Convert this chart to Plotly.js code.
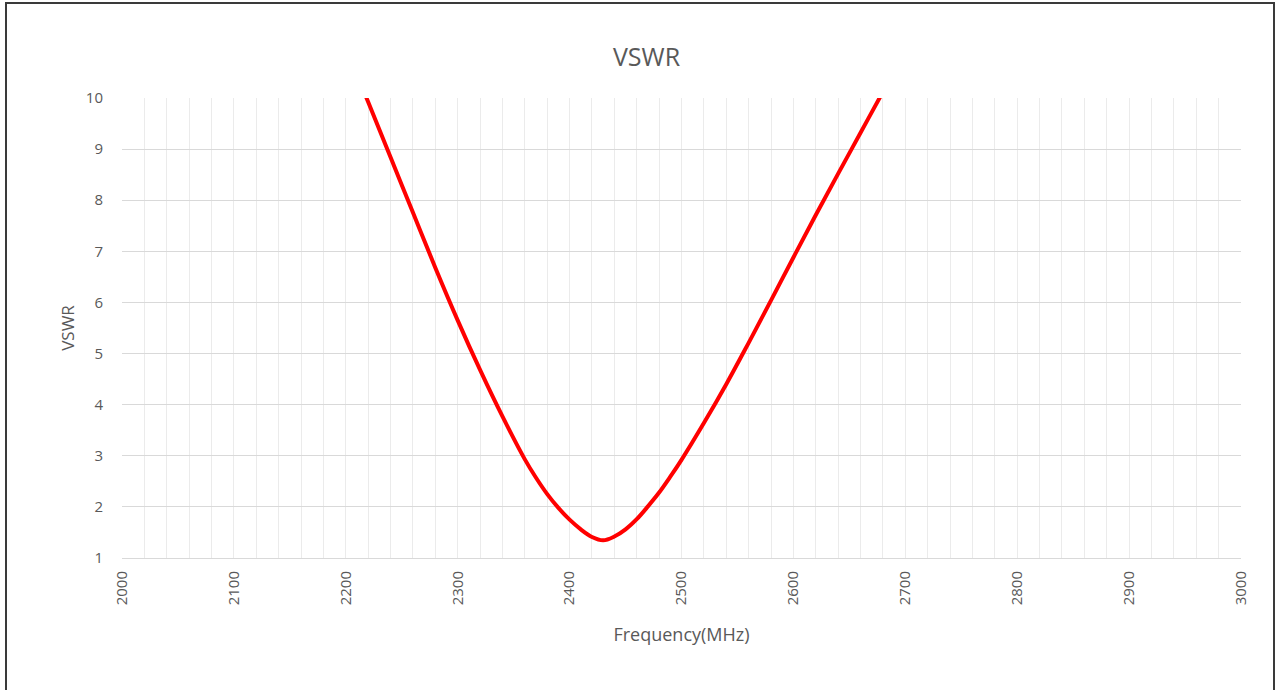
<!DOCTYPE html>
<html>
<head>
<meta charset="utf-8">
<script src="https://cdn.plot.ly/plotly-3.0.1.min.js"></script>
<style>
html,body{margin:0;padding:0;background:#fff;overflow:hidden;}
#frame{position:absolute;left:5px;top:2px;width:1270px;height:700px;border:2px solid #3a3a3a;box-sizing:border-box;pointer-events:none;}
#chart{position:absolute;left:0;top:0;width:1279px;height:690px;}
</style>
</head>
<body>
<div id="chart"></div>
<div id="frame"></div>
<script>
// Frequency (MHz) and VSWR
var freq = [2200, 2220, 2240, 2260, 2280, 2300, 2320, 2340, 2360, 2370, 2380, 2390, 2400, 2410, 2420, 2430, 2440, 2450, 2460, 2470, 2480, 2490, 2500, 2520, 2540, 2560, 2580, 2600, 2620, 2640, 2660, 2680, 2700];
var vswr = [11.0, 9.92, 8.84, 7.76, 6.68, 5.65, 4.68, 3.77, 2.93, 2.57, 2.25, 1.98, 1.75, 1.56, 1.41, 1.345, 1.42, 1.56, 1.76, 2.01, 2.28, 2.59, 2.92, 3.64, 4.40, 5.21, 6.04, 6.88, 7.71, 8.52, 9.32, 10.12, 10.9];
var xTickVals = [2000, 2100, 2200, 2300, 2400, 2500, 2600, 2700, 2800, 2900, 3000];
var xTickText = ["2000", "2100", "2200", "2300", "2400", "2500", "2600", "2700", "2800", "2900", "3000"];
var yTickVals = [1, 2, 3, 4, 5, 6, 7, 8, 9, 10];

var trace = {
  x: freq, y: vswr, type: 'scatter', mode: 'lines',
  line: {color: '#ff0000', width: 4, shape: 'spline', smoothing: 1.0},
  hoverinfo: 'x+y'
};

var fam = '"Open Sans", "Noto Sans", sans-serif';

var layout = {
  width: 1279, height: 690,
  margin: {l: 122, r: 38, t: 98, b: 132, pad: 0},
  paper_bgcolor: 'rgba(0,0,0,0)', plot_bgcolor: '#ffffff',
  showlegend: false,
  title: {text: 'VSWR', xref: 'container', x: 0.5055, xanchor: 'center',
          yref: 'container', y: 0.917, yanchor: 'middle',
          font: {family: fam, color: '#595959', size: 25}},
  xaxis: {
    range: [2000, 3000], tickmode: 'array', tickvals: xTickVals, ticktext: xTickText,
    tickangle: -90, ticks: '', ticklabelstandoff: 6,
    tickfont: {family: fam, color: '#595959', size: 15},
    showgrid: true, gridcolor: '#ebebeb', gridwidth: 1,
    minor: {dtick: 20, tick0: 2000, showgrid: true, gridcolor: '#ebebeb', gridwidth: 1, ticks: ''},
    zeroline: false, showline: true, linecolor: '#d9d9d9', linewidth: 1,
    title: {text: 'Frequency(MHz)', standoff: 24, font: {family: fam, color: '#595959', size: 18}},
    fixedrange: true
  },
  yaxis: {
    range: [1, 10], tickmode: 'array', tickvals: yTickVals,
    ticks: '', ticklabelstandoff: 18,
    tickfont: {family: fam, color: '#595959', size: 15},
    showgrid: true, gridcolor: '#d9d9d9', gridwidth: 1,
    zeroline: false, showline: false,
    title: {text: 'VSWR', standoff: 6, font: {family: fam, color: '#595959', size: 17}},
    fixedrange: true
  }
};

Plotly.newPlot('chart', [trace], layout, {displayModeBar: false, staticPlot: true});
</script>
</body>
</html>
